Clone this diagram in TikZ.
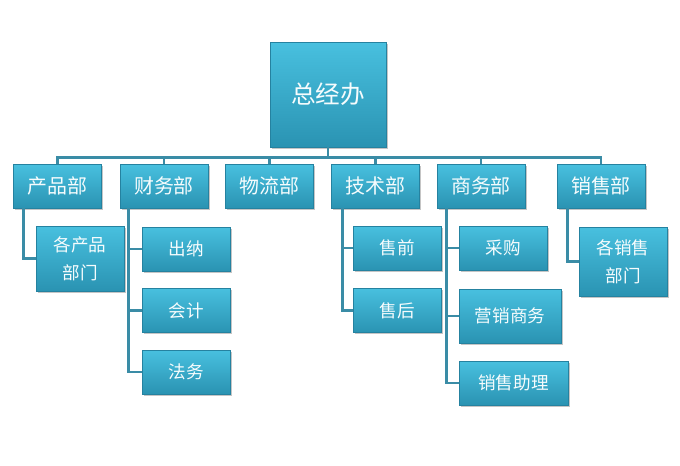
\documentclass[tikz,border=0pt]{standalone}
\usepackage{fontspec}
\setmainfont{Noto Sans CJK SC}
\usetikzlibrary{shadows}
\definecolor{boxtop}{HTML}{48C0DF}
\definecolor{boxbot}{HTML}{2A93B2}
\definecolor{boxline}{HTML}{2582A0}
\definecolor{linkcol}{HTML}{3A8CA6}
\begin{document}
\begin{tikzpicture}[x=0.03cm,y=-0.03cm,
  box/.style={rectangle,draw=boxline,line width=0.5pt,top color=boxtop,bottom color=boxbot,
    text=white!95!boxtop,inner sep=0pt,minimum width=88*0.03cm,minimum height=44*0.03cm,
    align=center,font=\fontsize{15}{24}\selectfont,
    path picture={\draw[white!55!boxtop,line width=1.5pt]
      (path picture bounding box.north west) -- (path picture bounding box.north east);},
    drop shadow={shadow xshift=1.5pt,shadow yshift=-1.5pt,fill=black!45,opacity=0.5}},
  head/.style={box,font=\fontsize{17}{20}\selectfont},
  link/.style={draw=linkcol,line width=2.3pt}]
\useasboundingbox (0,0) rectangle (680,465);

% top
\node[box,minimum width=116*0.03cm,minimum height=105*0.03cm,font=\fontsize{21}{24}\selectfont] (gm) at (328,94.5) {总经办};

% departments
\node[head] (cp) at (57.5,186) {产品部};
\node[head] (cw) at (164,186) {财务部};
\node[head] (wl) at (269.5,186) {物流部};
\node[head] (js) at (375.5,186) {技术部};
\node[head] (sw) at (481,186) {商务部};
\node[head] (xs) at (601,186) {销售部};

% sections
\node[box,minimum height=65*0.03cm] (cpbm) at (80,258.5) {各产品\\部门};
\node[box] (cn) at (186,249) {出纳};
\node[box] (kj) at (186,310.5) {会计};
\node[box] (fw) at (186,372) {法务};
\node[box] (sq) at (397,248) {售前};
\node[box] (sh) at (397,310.5) {售后};
\node[box] (cg) at (503,248) {采购};
\node[box,minimum width=102*0.03cm,minimum height=54*0.03cm] (yx) at (510,316) {营销商务};
\node[box,minimum width=109*0.03cm] (zl) at (513.5,383) {销售助理};
\node[box,minimum height=69*0.03cm] (xsbm) at (623,261.5) {各销售\\部门};

% links
\foreach \d in {cp,cw,wl,js,sw,xs}
  \draw[link] (gm.south) -- ++(0,10) -| (\d.north);

\draw[link] ([shift={(10,0)}]cp.south west) |- (cpbm.west);
\foreach \s in {cn,kj,fw}
  \draw[link] ([shift={(9,0)}]cw.south west) |- (\s.west);
\foreach \s in {sq,sh}
  \draw[link] ([shift={(11,0)}]js.south west) |- (\s.west);
\foreach \s in {cg,yx,zl}
  \draw[link] ([shift={(10,0)}]sw.south west) |- (\s.west);
\draw[link] ([shift={(11,0)}]xs.south west) |- (xsbm.west);
\end{tikzpicture}
\end{document}
